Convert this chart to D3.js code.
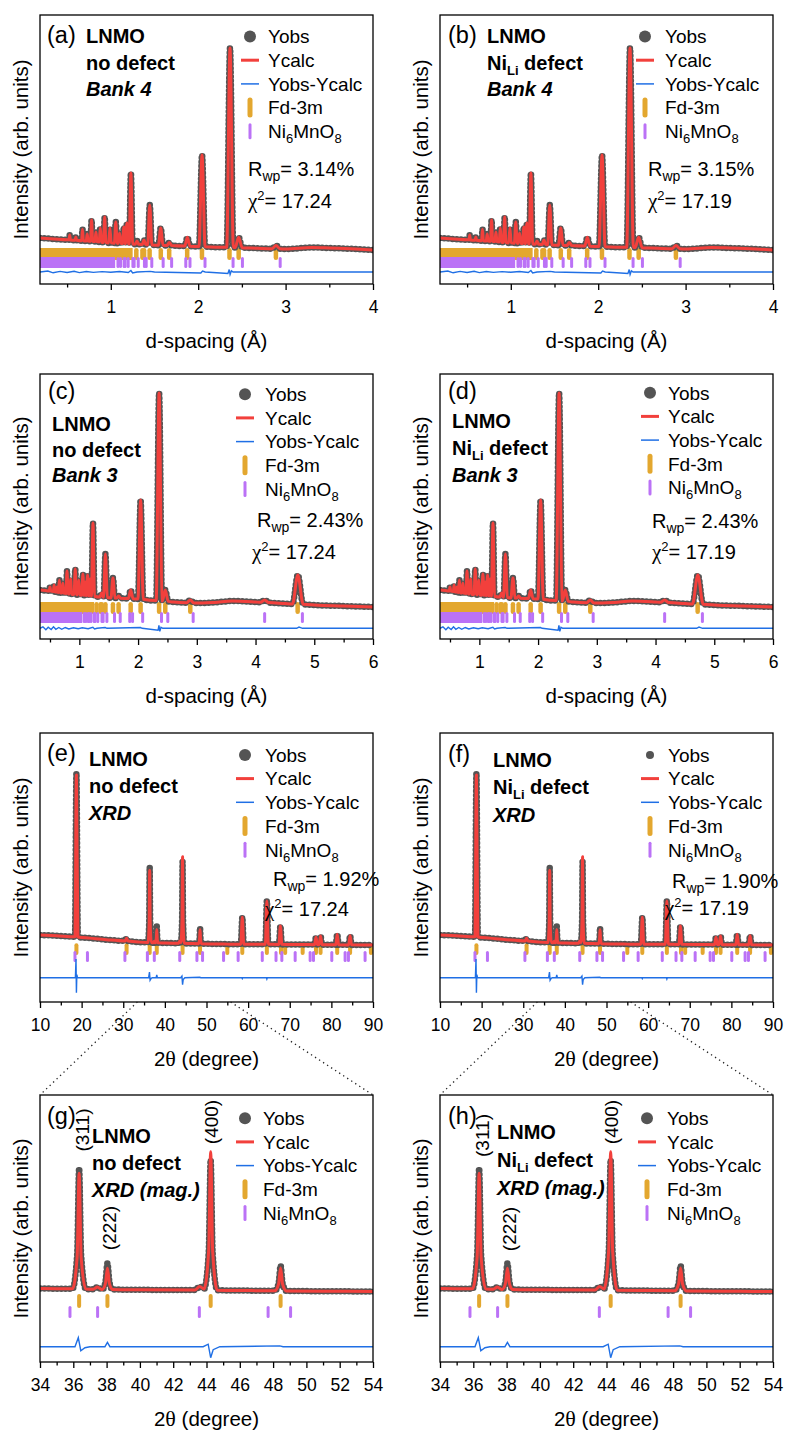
<!DOCTYPE html>
<html>
<head>
<meta charset="utf-8">
<script src="https://cdn.jsdelivr.net/npm/d3@7"></script>
<style>
  body { margin: 0; background: #fff; }
  svg text { font-family: "Liberation Sans", Arial, sans-serif; fill: #000; }
</style>
</head>
<body>
<script>
// ---------------- data ----------------

// x tick values
var dTicks4 = [1, 2, 3, 4];
var dMinor4 = [0.5, 1.5, 2.5, 3.5];
var dTicks3 = [1, 2, 3, 4, 5, 6];
var dMinor3 = [0.5, 1.5, 2.5, 3.5, 4.5, 5.5];
var tthTicks = [10, 20, 30, 40, 50, 60, 70, 80, 90];
var tthMinor = [15, 25, 35, 45, 55, 65, 75, 85];
var magTicks = [34, 36, 38, 40, 42, 44, 46, 48, 50, 52, 54];
var magMinor = [35, 37, 39, 41, 43, 45, 47, 49, 51, 53];

// neutron bank 4 (panels a, b): [d-spacing (A), intensity]  (obs and calc overlap at this scale)
var bank4Profile = [
  [0.19,10],[0.35,9],[0.50,8.2],
  [0.522,8.2],[0.53,13],[0.538,8.1],
  [0.591,7.8],[0.60,11],[0.609,7.8],
  [0.666,7.3],[0.676,18.7],[0.686,7.3],
  [0.719,7],[0.73,14],[0.741,7],
  [0.768,6.7],[0.78,28],[0.792,6.7],
  [0.818,6.4],[0.83,16],[0.842,6.4],
  [0.867,6],[0.88,20],[0.893,6],
  [0.916,5.6],[0.93,31],[0.944,5.6],
  [0.975,5.1],[0.99,20],[1.005,5.1],
  [1.041,4.8],[1.057,26],[1.073,4.8],
  [1.084,4.6],[1.10,15],[1.116,4.6],
  [1.133,4.4],[1.15,21],[1.167,4.4],
  [1.168,4.3],[1.185,25],[1.202,4.3],
  [1.21,4.1],[1.23,75],[1.25,4.0],
  [1.28,3.8],[1.30,7],[1.32,3.7],
  [1.36,3.5],[1.38,8],[1.40,3.4],
  [1.422,3.2],[1.446,43],[1.47,3.1],
  [1.545,2.8],[1.571,20],[1.597,2.7],
  [1.643,2.5],[1.67,5.5],[1.697,2.4],
  [1.846,1.9],[1.876,10.7],[1.906,1.8],
  [2.009,1.4],[2.044,93],[2.079,1.3],
  [2.326,0.7],[2.364,200],[2.402,0.6],
  [2.423,0.4],[2.463,10.7],[2.503,0.3],
  [2.6,0],[2.845,-0.7],[2.89,2.5],[2.935,-0.8],
  [3.0,-1],[3.3,0.5],[3.5,0],[3.8,-1],[4.0,-2]
];
var bank4Diff = [
  [0.19,0],[0.28,1],[0.34,-0.8],[0.42,0.6],[0.5,-0.5],[0.58,0.8],[0.64,-0.6],[0.72,0.5],
  [0.8,-0.4],[0.9,0.4],[1.0,-0.3],[1.1,0.5],[1.2,-0.5],[1.23,1.5],[1.25,-1],[1.3,0],
  [1.45,0.6],[1.5,0],[2.03,-1],[2.05,1],[2.08,0],[2.34,-1.5],[2.355,2.5],[2.365,-2.5],
  [2.38,1.2],[2.40,0],[4.0,0]
];

// neutron bank 3 (panels c, d)
var bank3Profile = [
  [0.33,17],[0.42,16.5],
  [0.488,16.1],[0.50,20],[0.512,16],
  [0.557,15.4],[0.57,22],[0.583,15.3],
  [0.606,14.9],[0.62,20],[0.634,14.7],
  [0.645,14.6],[0.66,27],[0.675,14.4],
  [0.704,14],[0.72,24],[0.736,13.8],
  [0.772,13.4],[0.79,36],[0.808,13.2],
  [0.831,13],[0.85,28],[0.869,12.8],
  [0.91,12.5],[0.93,38],[0.95,12.4],
  [0.969,12.2],[0.99,27],[1.011,12],
  [1.042,11.7],[1.06,33],[1.078,11.6],
  [1.082,11.6],[1.10,25],[1.118,11.5],
  [1.12,11.4],[1.14,32],[1.16,11.3],
  [1.165,11.2],[1.185,28],[1.205,11.0],
  [1.206,11.0],[1.232,84],[1.258,10.8],
  [1.35,10],[1.38,14],[1.41,9.8],
  [1.412,9.7],[1.444,53],[1.476,9.5],
  [1.538,9.1],[1.572,29],[1.606,9],
  [1.635,8.9],[1.668,11],[1.701,8.8],
  [1.834,8.4],[1.874,17],[1.914,8.3],
  [1.998,8.0],[2.043,107],[2.088,7.7],
  [2.308,6.4],[2.358,214],[2.408,6.1],
  [2.413,6],[2.463,17],[2.513,5.6],
  [2.6,5],[2.829,4.3],[2.889,7],[2.949,4.1],
  [3.1,4],[3.3,4.5],[3.6,6],[4.0,5],
  [4.085,4.7],[4.155,7],[4.225,4.4],
  [4.5,3.5],[4.63,3],[4.72,32],[4.81,2.8],
  [5.0,2],[5.5,1],[6.0,0]
];
var bank3Diff = [
  [0.33,0],[0.38,1.5],[0.43,-1.5],[0.47,1],[0.52,-1.2],[0.56,1.5],[0.6,-1],[0.65,0.8],
  [0.7,-1],[0.76,0.8],[0.82,-0.6],[0.9,0.6],[0.98,-0.5],[1.05,0.5],[1.15,-0.4],[1.23,1],
  [1.26,-0.6],[1.3,0],[1.44,0.8],[1.47,0],[2.04,0.8],[2.07,0],[2.34,-2],[2.355,3],
  [2.37,-3],[2.39,1],[2.42,0],[4.7,0],[4.74,1.2],[4.8,0],[6,0]
];

// XRD (panels e-h): [2theta (deg), intensity]
var xrdObs = [
  [10,16],[14,14.8],[18.4,13.2],[18.75,275],[19.1,12.8],[22,11],[26,8.5],
  [30.45,6.6],[30.8,10.7],[31.15,6.4],[34,4.6],
  [35.95,4.2],[36.23,38],[36.35,124.7],[36.47,38],[36.75,4.0],
  [37.2,3.7],[37.45,6],[37.7,3.6],
  [37.75,3.6],[37.93,11],[38.05,29.7],[38.17,11],[38.35,3.5],
  [40,3.2],[43.3,2.9],[43.6,6.5],[43.85,4],
  [44.13,40],[44.25,133],[44.37,40],[44.65,2.7],
  [46,2.5],[48.1,2.2],[48.33,9.5],[48.45,27.3],[48.57,9.5],[48.8,2.1],
  [52,1.7],[55,1.4],[58.25,1.3],[58.6,44.3],[58.95,1.3],
  [62,1.1],[64.15,1.1],[64.5,70.4],[64.85,1.1],
  [67.4,1],[67.75,30.4],[68.1,1],
  [72,0.8],[75.95,0.6],[76.3,12.3],[76.65,0.6],
  [77.05,0.5],[77.4,14.4],[77.75,0.5],
  [81.05,0.3],[81.4,17.1],[81.75,0.3],
  [84.15,0.2],[84.5,14.9],[84.85,0.2],[90,0]
];
var xrdCalc = [
  [10,16],[14,14.8],[18.4,13.2],[18.75,272],[19.1,12.8],[22,11],[26,8.5],
  [30.45,6.6],[30.8,10.7],[31.15,6.4],[34,4.6],
  [35.95,4.2],[36.23,36],[36.35,119.7],[36.47,36],[36.75,4.0],
  [37.2,3.7],[37.45,6],[37.7,3.6],
  [37.75,3.6],[37.93,9.5],[38.05,24.7],[38.17,9.5],[38.35,3.5],
  [40,3.2],[43.3,2.9],[43.6,6.5],[43.85,4],
  [44.13,42],[44.25,141.3],[44.37,42],[44.65,2.7],
  [46,2.5],[48.1,2.2],[48.33,9],[48.45,25],[48.57,9],[48.8,2.1],
  [52,1.7],[55,1.4],[58.25,1.3],[58.6,44.3],[58.95,1.3],
  [62,1.1],[64.15,1.1],[64.5,70.4],[64.85,1.1],
  [67.4,1],[67.75,30.4],[68.1,1],
  [72,0.8],[75.95,0.6],[76.3,12.3],[76.65,0.6],
  [77.05,0.5],[77.4,14.4],[77.75,0.5],
  [81.05,0.3],[81.4,17.1],[81.75,0.3],
  [84.15,0.2],[84.5,14.9],[84.85,0.2],[90,0]
];
var xrdDiff = [
  [10,0],[18.5,0],[18.65,30],[18.75,-24],[18.85,5],[19.0,0],
  [36.1,0],[36.3,9],[36.45,-4],[36.7,-1],[37,0],[37.9,0],[38.05,4.3],[38.2,0],
  [43.8,0],[44.1,2.5],[44.25,-11],[44.4,-3],[44.8,0],[48.4,0.8],[48.6,0],
  [58.5,0],[58.6,-1.5],[58.7,0],[64.4,0],[64.5,-2],[64.6,0],[90,0]
];

// reflection positions
var fdD = [1.292, 1.362, 1.381, 1.444, 1.572, 1.668, 1.874, 2.043, 2.358, 2.463, 2.889, 4.717];
var fdDenseD = 1.25;   // below this the Fd-3m marks merge into a solid bar
var niD = [1.082, 1.111, 1.152, 1.164, 1.199, 1.253, 1.267, 1.314, 1.385, 1.405, 1.469, 1.599,
           1.696, 1.858, 1.906, 2.078, 2.399, 2.506, 2.938, 4.155, 4.798];
var niDenseD = 1.05;
var fdTth = [18.75, 30.8, 36.35, 38.05, 44.25, 48.45, 55.0, 58.6, 64.5, 67.9, 68.9, 73.1, 76.3, 77.4, 81.4, 84.5, 89.5];
var niTth = [18.4, 21.4, 30.4, 35.8, 37.46, 43.57, 47.7, 49.05, 54.1, 57.6, 63.4, 66.7, 68.1, 71.3, 74.9, 75.7,
             80.1, 83.3, 84.1, 88.1];

// hkl labels in the magnified panels [text, 2theta]
var hklLabels = [["(311)", 36.58], ["(222)", 38.2], ["(400)", 44.33]];

// magnified window marked on the full XRD axis
var zoomFrom = [33.4, 55.8];

// panel texts
var panelLetters = ["(a)", "(b)", "(c)", "(d)", "(e)", "(f)", "(g)", "(h)"];
var sampleNames = ["no defect", "NiLi", "no defect", "NiLi", "no defect", "NiLi", "no defect", "NiLi"];
var datasetNames = ["Bank 4", "Bank 4", "Bank 3", "Bank 3", "XRD", "XRD", "XRD (mag.)", "XRD (mag.)"];
var rwpValues = ["3.14%", "3.15%", "2.43%", "2.43%", "1.92%", "1.90%", null, null];
var chi2Values = ["17.24", "17.19", "17.24", "17.19", "17.24", "17.19", null, null];
var legendNames = ["Yobs", "Ycalc", "Yobs-Ycalc", "Fd-3m", "Ni6MnO8"];

// ---------------- drawing ----------------
var colObs = "#545454", colCalc = "#f2403c", colDiff = "#1f6fe5", colFd = "#e3a72f", colNi = "#bb72f6";
var font = '"Liberation Sans", Arial, sans-serif';
var serif = '"Liberation Serif", "Times New Roman", serif';

var kinds = {
  d4:  {xDomain: [0.19, 4], yDomain: [-36, 233], obs: bank4Profile, calc: bank4Profile, diff: bank4Diff,
        fd: fdD, ni: niD, fdDense: fdDenseD, niDense: niDenseD, ticks: dTicks4, minor: dMinor4,
        fdRow: [0, 12], niRow: [9, 20], diffOff: 24, fdW: 4.5, niW: 3, title: "d"},
  d3:  {xDomain: [0.33, 6], yDomain: [-32, 233], obs: bank3Profile, calc: bank3Profile, diff: bank3Diff,
        fd: fdD, ni: niD, fdDense: fdDenseD, niDense: niDenseD, ticks: dTicks3, minor: dMinor3,
        fdRow: [-5, 7], niRow: [5, 16], diffOff: 21.3, fdW: 4.5, niW: 3, title: "d"},
  xrd: {xDomain: [10, 90], yDomain: [-91.2, 339.2], obs: xrdObs, calc: xrdCalc, diff: xrdDiff,
        fd: fdTth, ni: niTth, ticks: tthTicks, minor: tthMinor,
        fdRow: [-1.7, 10], niRow: [6, 17], diffOff: 32.7, fdW: 4, niW: 3, title: "t"},
  mag: {xDomain: [34, 54], yDomain: [-69, 198], obs: xrdObs, calc: xrdCalc, diff: xrdDiff,
        fd: fdTth, ni: niTth, ticks: magTicks, minor: magMinor,
        fdRow: [1, 15], niRow: [13, 25], diffOff: 53.7, fdW: 4, niW: 3, title: "t"}
};

// layout of the eight panels (offsets are relative to the panel box)
var layout = [
  {kind: "d4", x0: 40,  y0: 15,   y1: 284,  lab: [7, 28],  txt: [46, 28.3, 26.3], leg: [210, 228, 28.3], rwp: [208, 160.7], chi: [208, 193.3], dotR: 6},
  {kind: "d4", x0: 440, y0: 15,   y1: 284,  lab: [8, 28],  txt: [47, 28.3, 26.3], leg: [205, 225, 28.3], rwp: [208, 160.7], chi: [208, 193.3], dotR: 6},
  {kind: "d3", x0: 40,  y0: 374,  y1: 639,  lab: [8, 25],  txt: [12, 56.7, 25.8], leg: [205, 225, 27],   rwp: [217, 152.7], chi: [212, 185],   dotR: 6},
  {kind: "d3", x0: 440, y0: 374,  y1: 639,  lab: [8, 25],  txt: [12, 54, 26.8],   leg: [210, 228, 25.5], rwp: [212, 154],   chi: [212, 185],   dotR: 6},
  {kind: "xrd", x0: 40,  y0: 733,  y1: 1002, lab: [7, 28],  txt: [49, 32.7, 27.2], leg: [205, 225, 28.7], rwp: [233, 152.7], chi: [225, 182.7], dotR: 6},
  {kind: "xrd", x0: 440, y0: 733,  y1: 1002, lab: [8, 29],  txt: [53, 33.7, 27.5], leg: [210, 228, 28.7], rwp: [232, 155],   chi: [225, 182],   dotR: 4},
  {kind: "mag", x0: 40,  y0: 1095, y1: 1362, lab: [7, 29],  txt: [52, 48.3, 26.7], leg: [205, 223, 30],   hkl: [35, 133, 27], dotR: 6},
  {kind: "mag", x0: 440, y0: 1095, y1: 1362, lab: [8, 29],  txt: [57, 43.5, 28],   leg: [207, 227, 30],   hkl: [40.5, 134, 27], dotR: 6}
];

var svg = d3.select("body").append("svg")
  .attr("width", 785)
  .attr("height", 1432);

var scalesE = [];

layout.forEach(function(p, i) {
  var k = kinds[p.kind];
  p.x1 = p.x0 + 333;
  var x = d3.scaleLinear().domain(k.xDomain).range([p.x0, p.x1]);
  var y = d3.scaleLinear().domain(k.yDomain).range([p.y1, p.y0]);
  scalesE[i] = x;
  var g = svg.append("g").attr("class", "panel");

  var clipId = "clip" + i;
  svg.append("clipPath").attr("id", clipId).append("rect")
    .attr("x", p.x0).attr("y", p.y0).attr("width", p.x1 - p.x0).attr("height", p.y1 - p.y0);
  var plot = g.append("g").attr("clip-path", "url(#" + clipId + ")");

  var base = y(0);

  // reflection marks: Fd-3m then Ni6MnO8
  function marks(list, dense, row, w, col) {
    if (dense) {
      plot.append("rect")
        .attr("x", p.x0).attr("y", base + row[0])
        .attr("width", x(dense) - p.x0).attr("height", row[1] - row[0])
        .attr("fill", col);
    }
    plot.append("g").selectAll("rect")
      .data(list)
      .enter().append("rect")
      .attr("x", function(d) { return x(d) - w / 2; })
      .attr("y", base + row[0])
      .attr("width", w)
      .attr("height", row[1] - row[0])
      .attr("rx", w / 2)
      .attr("fill", col);
  }
  marks(k.fd, k.fdDense, k.fdRow, k.fdW, colFd);
  marks(k.ni, k.niDense, k.niRow, k.niW, colNi);

  // difference curve
  var diffLine = d3.line()
    .x(function(d) { return x(d[0]); })
    .y(function(d) { return base + k.diffOff + (y(d[1]) - y(0)); });
  plot.append("path")
    .attr("d", diffLine(k.diff))
    .attr("fill", "none")
    .attr("stroke", colDiff)
    .attr("stroke-width", 1.4);

  var prof = d3.line()
    .x(function(d) { return x(d[0]); })
    .y(function(d) { return y(d[1]); })
    .curve(d3.curveMonotoneX);

  // observed: chain of dots
  plot.append("path")
    .attr("d", prof(k.obs))
    .attr("fill", "none")
    .attr("stroke", colObs)
    .attr("stroke-width", 6.5)
    .attr("stroke-linecap", "round")
    .attr("stroke-dasharray", "0 4.2");
  // calculated
  plot.append("path")
    .attr("d", prof(k.calc))
    .attr("fill", "none")
    .attr("stroke", colCalc)
    .attr("stroke-width", 3)
    .attr("stroke-linejoin", "round");

  // box
  g.append("rect")
    .attr("x", p.x0).attr("y", p.y0)
    .attr("width", p.x1 - p.x0).attr("height", p.y1 - p.y0)
    .attr("fill", "none").attr("stroke", "#000").attr("stroke-width", 1.3);

  // x axis
  var ax = g.append("g")
    .attr("transform", "translate(0," + p.y1 + ")")
    .call(d3.axisBottom(x).tickValues(k.ticks).tickSize(6).tickPadding(10.5).tickFormat(d3.format("d")));
  ax.select(".domain").remove();
  ax.attr("font-family", font).attr("font-size", 17.5);
  ax.selectAll("line").attr("stroke-width", 1.3);
  var axm = g.append("g")
    .attr("transform", "translate(0," + p.y1 + ")")
    .call(d3.axisBottom(x).tickValues(k.minor).tickSize(3.5).tickFormat(""));
  axm.select(".domain").remove();
  axm.selectAll("line").attr("stroke-width", 1.3);

  // axis titles
  var xt = g.append("text")
    .attr("x", (p.x0 + p.x1) / 2)
    .attr("y", p.y1 + 63.5)
    .attr("text-anchor", "middle")
    .attr("font-size", 20.5);
  if (k.title === "d") {
    xt.text("d-spacing (Å)");
  } else {
    xt.append("tspan").text("2");
    xt.append("tspan").attr("font-family", serif).attr("font-size", 22).text("θ");
    xt.append("tspan").text(" (degree)");
  }
  g.append("text")
    .attr("transform", "translate(" + (p.x0 - 12) + "," + ((p.y0 + p.y1) / 2) + ") rotate(-90)")
    .attr("text-anchor", "middle")
    .attr("font-size", 20.5)
    .text("Intensity (arb. units)");

  // panel letter and sample text
  g.append("text")
    .attr("x", p.x0 + p.lab[0]).attr("y", p.y0 + p.lab[1])
    .attr("font-size", 23.5)
    .text(panelLetters[i]);
  var tx = p.x0 + p.txt[0];
  function tline(n) { return p.y0 + p.txt[1] + n * p.txt[2]; }
  g.append("text").attr("x", tx).attr("y", tline(0))
    .attr("font-size", 20).attr("font-weight", "bold").text("LNMO");
  var s = g.append("text").attr("x", tx).attr("y", tline(1))
    .attr("font-size", 20).attr("font-weight", "bold");
  if (sampleNames[i] === "NiLi") {
    s.append("tspan").text("Ni");
    s.append("tspan").attr("font-size", 13).attr("dy", 5).text("Li");
    s.append("tspan").attr("dy", -5).text(" defect");
  } else {
    s.text(sampleNames[i]);
  }
  g.append("text").attr("x", tx).attr("y", tline(2))
    .attr("font-size", 20).attr("font-weight", "bold").attr("font-style", "italic")
    .text(datasetNames[i]);

  // legend
  var lg = g.append("g");
  legendNames.forEach(function(name, j) {
    var by = p.y0 + p.leg[2] + j * 23.7;
    var cy = by - 6.8;
    var sx = p.x0 + p.leg[0];
    if (j === 0) {
      lg.append("circle").attr("cx", sx).attr("cy", cy).attr("r", p.dotR).attr("fill", colObs);
    } else if (j === 1 || j === 2) {
      lg.append("line").attr("x1", sx - 9).attr("x2", sx + 9).attr("y1", cy).attr("y2", cy)
        .attr("stroke", j === 1 ? colCalc : colDiff).attr("stroke-width", j === 1 ? 3 : 1.5);
    } else if (j === 3) {
      lg.append("rect").attr("x", sx - 2.5).attr("y", cy - 10).attr("width", 5).attr("height", 20)
        .attr("rx", 2.5).attr("fill", colFd);
    } else {
      lg.append("rect").attr("x", sx - 1.5).attr("y", cy - 8).attr("width", 3).attr("height", 16)
        .attr("rx", 1.5).attr("fill", colNi);
    }
    var t = lg.append("text").attr("x", p.x0 + p.leg[1]).attr("y", by).attr("font-size", 19);
    if (name === "Ni6MnO8") {
      t.append("tspan").text("Ni");
      t.append("tspan").attr("font-size", 13).attr("dy", 5).text("6");
      t.append("tspan").attr("dy", -5).text("MnO");
      t.append("tspan").attr("font-size", 13).attr("dy", 5).text("8");
    } else {
      t.text(name);
    }
  });

  // fit statistics
  if (rwpValues[i]) {
    var r = g.append("text").attr("x", p.x0 + p.rwp[0]).attr("y", p.y0 + p.rwp[1]).attr("font-size", 20);
    r.append("tspan").text("R");
    r.append("tspan").attr("font-size", 14).attr("dy", 5).text("wp");
    r.append("tspan").attr("dy", -5).text("= " + rwpValues[i]);
    var c = g.append("text").attr("x", p.x0 + p.chi[0]).attr("y", p.y0 + p.chi[1]).attr("font-size", 20);
    c.append("tspan").attr("font-family", serif).attr("font-size", 21).text("χ");
    c.append("tspan").attr("font-size", 13).attr("dy", -8).text("2");
    c.append("tspan").attr("dy", 8).text("= " + chi2Values[i]);
  }

  // hkl labels on the magnified panels
  if (p.hkl) {
    hklLabels.forEach(function(h, j) {
      g.append("text")
        .attr("transform", "translate(" + x(h[1]) + "," + (p.y0 + p.hkl[j]) + ") rotate(-90)")
        .attr("text-anchor", "middle")
        .attr("dominant-baseline", "central")
        .attr("font-size", 19)
        .text(h[0]);
    });
  }
});

// dotted lines linking the full XRD pattern to the magnified view
[[4, 6], [5, 7]].forEach(function(pair) {
  var top = layout[pair[0]], bot = layout[pair[1]];
  var xs = scalesE[pair[0]];
  var ends = [[xs(zoomFrom[0]), bot.x0], [xs(zoomFrom[1]), bot.x1]];
  ends.forEach(function(e) {
    svg.append("line")
      .attr("x1", e[0]).attr("y1", top.y1)
      .attr("x2", e[1]).attr("y2", bot.y0)
      .attr("stroke", "#222")
      .attr("stroke-width", 1.3)
      .attr("stroke-dasharray", "1.3 3.5");
  });
});
</script>
</body>
</html>
